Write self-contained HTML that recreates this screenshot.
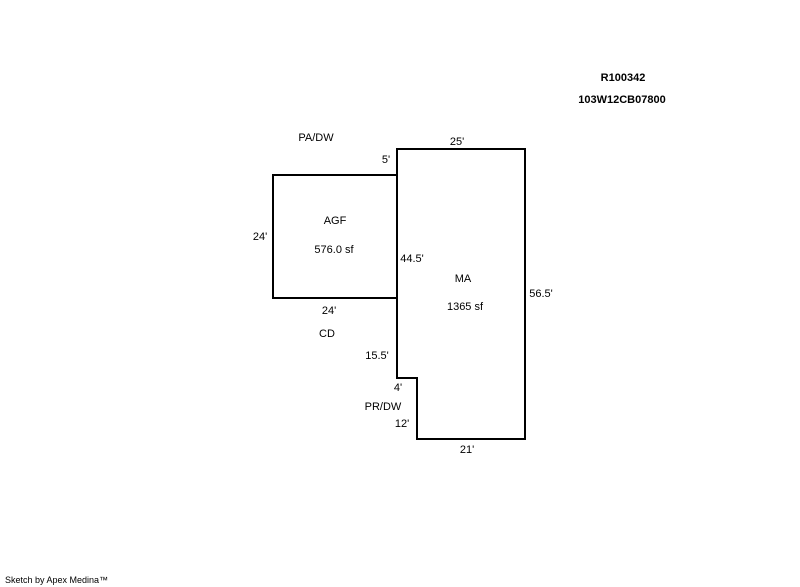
<!DOCTYPE html>
<html><head><style>
html,body{margin:0;padding:0;background:#fff;}
svg{display:block;}
text{font-family:"Liberation Sans",Arial,sans-serif;font-size:11px;fill:#000;}
.b{font-weight:bold;}
</style></head><body>
<svg width="800" height="587" viewBox="0 0 800 587" xmlns="http://www.w3.org/2000/svg">
<g fill="none" stroke="#000" stroke-width="2">
<polyline points="397,298 397,149 525,149 525,439 417,439 417,378 397,378 397,298"/>
<polyline points="397,175 273,175 273,298 397,298"/>
</g>
<g text-anchor="middle">
<text x="316" y="141">PA/DW</text>
<text x="386" y="163">5'</text>
<text x="457" y="145">25'</text>
<text x="260" y="240">24'</text>
<text x="335" y="224">AGF</text>
<text x="334" y="253">576.0 sf</text>
<text x="412" y="262">44.5'</text>
<text x="463" y="282">MA</text>
<text x="465" y="310">1365 sf</text>
<text x="541" y="297">56.5'</text>
<text x="329" y="314">24'</text>
<text x="327" y="337">CD</text>
<text x="377" y="359">15.5'</text>
<text x="398" y="391">4'</text>
<text x="383" y="410">PR/DW</text>
<text x="402" y="427">12'</text>
<text x="467" y="453">21'</text>
<text class="b" x="623" y="81">R100342</text>
<text class="b" x="622" y="103">103W12CB07800</text>
</g>
<text x="5" y="583" style="font-size:9px">Sketch by Apex Medina™</text>
</svg>
</body></html>
